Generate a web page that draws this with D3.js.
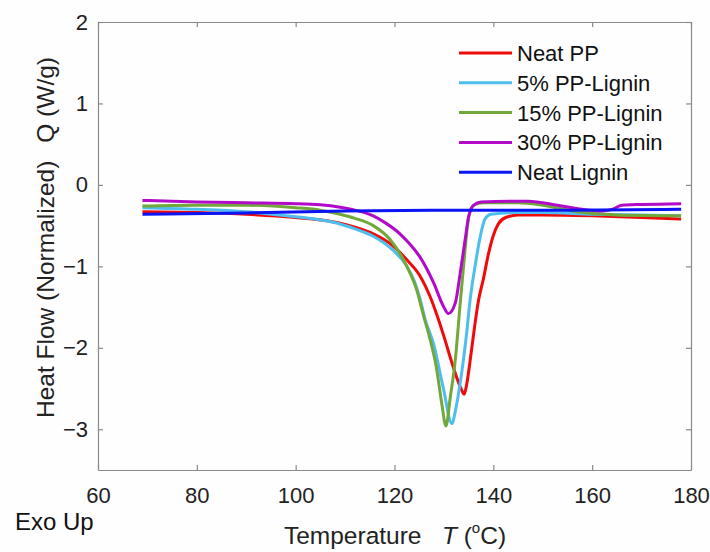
<!DOCTYPE html>
<html>
<head>
    <meta charset="utf-8">
    <script src="https://d3js.org/d3.v7.min.js"></script>
    <style>
        body { margin: 0; background: #fefefe; }
        svg { display: block; font-family: Arial, "Liberation Sans", sans-serif; }
        .axis path, .axis line { stroke: #8a8a8a; stroke-width: 1.2; }
        .axis text { fill: #222; font-size: 22px; font-family: Arial, "Liberation Sans", sans-serif; }
    </style>
</head>
<body>
<div id="chart"></div>
<script>
// DSC curves, [temperature °C, heat flow W/g]
const neatPP = [[69,-0.33],[80,-0.34],[90,-0.36],[100,-0.40],[105,-0.43],[109,-0.47],[112,-0.52],[115.7,-0.60],
    [119.1,-0.72],[122.5,-0.92],[125.2,-1.12],[127.2,-1.37],[128.6,-1.60],[130,-1.86],[131.6,-2.18],[132.8,-2.40],
    [133.6,-2.52],[134.1,-2.57],[134.6,-2.45],[135.6,-2.02],[136.3,-1.70],[137,-1.42],[138,-1.15],[139,-0.85],
    [140,-0.62],[141,-0.48],[142.5,-0.40],[145,-0.37],[150,-0.37],[160,-0.38],[170,-0.40],[178,-0.42]];
const pp5 = [[69,-0.28],[80,-0.30],[90,-0.33],[100,-0.39],[105,-0.43],[109,-0.48],[112,-0.54],[115.7,-0.63],
    [119.1,-0.77],[122.5,-1.00],[124,-1.18],[125.2,-1.41],[126.2,-1.65],[127.9,-1.95],[129.9,-2.50],[131.6,-2.93],
    [132.4,-2.75],[133.3,-2.43],[134.6,-1.82],[135.3,-1.41],[136.3,-1.00],[137.3,-0.65],[138.3,-0.42],
    [139.5,-0.36],[145,-0.34],[150,-0.34],[160,-0.36],[170,-0.37],[178,-0.38]];
const pp15 = [[69,-0.26],[80,-0.25],[90,-0.25],[100,-0.28],[105,-0.31],[109,-0.36],[112,-0.41],[115.7,-0.50],
    [119.1,-0.67],[122.5,-1.00],[124.5,-1.29],[125.9,-1.61],[127,-1.85],[128.5,-2.25],[129.6,-2.70],[130.4,-2.96],
    [131.3,-2.60],[132.3,-2.15],[133.3,-1.45],[134.2,-0.85],[135,-0.40],[136,-0.25],[138,-0.22],[145,-0.22],
    [150,-0.25],[157,-0.33],[165,-0.37],[178,-0.38]];
const pp30 = [[69,-0.19],[80,-0.21],[90,-0.22],[100,-0.23],[105,-0.245],[109,-0.275],[112,-0.31],[115.7,-0.38],
    [118,-0.46],[121.1,-0.60],[123,-0.72],[125.2,-0.89],[127.9,-1.20],[129.9,-1.49],[130.9,-1.58],[132.3,-1.45],
    [133.3,-1.08],[134.3,-0.67],[135,-0.39],[136,-0.25],[137.5,-0.21],[147,-0.20],[153,-0.25],
    [158,-0.30],[162,-0.32],[164,-0.30],[166,-0.25],[170,-0.24],[178,-0.23]];
const neatLignin = [[69,-0.36],[90,-0.345],[110,-0.32],[130,-0.31],[155,-0.31],[178,-0.30]];

const seriesNames = ["Neat PP", "5% PP-Lignin", "15% PP-Lignin", "30% PP-Lignin", "Neat Lignin"];
const seriesData = [neatPP, pp5, pp15, pp30, neatLignin];
const seriesColors = ["#f00a0a", "#4dbeee", "#72a83a", "#b20ac8", "#0a14f5"];

const xTicks = [60, 80, 100, 120, 140, 160, 180];
const yTicks = [2, 1, 0, -1, -2, -3];

const width = 710, height = 552;
const mLeft = 98, mRight = 691, mTop = 22, mBottom = 470;

const svg = d3.select("#chart").append("svg")
    .attr("width", width)
    .attr("height", height);

const x = d3.scaleLinear().domain([60, 180]).range([mLeft, mRight]);
const y = d3.scaleLinear().domain([-3.5, 2]).range([mBottom, mTop]);

// axes, ticks point inward on all four sides
svg.append("g").attr("class", "axis")
    .attr("transform", `translate(0,${mBottom})`)
    .call(d3.axisBottom(x).tickValues(xTicks).tickSizeInner(-5).tickSizeOuter(0).tickPadding(17));
svg.append("g").attr("class", "axis")
    .attr("transform", `translate(0,${mTop})`)
    .call(d3.axisTop(x).tickValues(xTicks).tickSizeInner(-5).tickSizeOuter(0).tickFormat(""));
svg.append("g").attr("class", "axis")
    .attr("transform", `translate(${mLeft},0)`)
    .call(d3.axisLeft(y).tickValues(yTicks).tickSizeInner(-5).tickSizeOuter(0).tickPadding(10)
        .tickFormat(d => d < 0 ? "\u2212" + Math.abs(d) : d));
svg.append("g").attr("class", "axis")
    .attr("transform", `translate(${mRight},0)`)
    .call(d3.axisRight(y).tickValues(yTicks).tickSizeInner(-5).tickSizeOuter(0).tickFormat(""));

// curves
const line = d3.line()
    .x(d => x(d[0]))
    .y(d => y(d[1]))
    .curve(d3.curveMonotoneX);

seriesData.forEach((data, i) => {
    svg.append("path")
        .datum(data)
        .attr("d", line)
        .attr("fill", "none")
        .attr("stroke", seriesColors[i])
        .attr("stroke-width", 3)
        .attr("stroke-linejoin", "round");
});

// legend
const legend = svg.append("g").attr("transform", "translate(459,53)");
seriesNames.forEach((name, i) => {
    const row = legend.append("g").attr("transform", `translate(0,${i * 29.8})`);
    row.append("line")
        .attr("x1", 0).attr("x2", 53)
        .attr("stroke", seriesColors[i])
        .attr("stroke-width", 3);
    row.append("text")
        .attr("x", 58).attr("y", 8)
        .attr("font-size", 22)
        .attr("fill", "#111")
        .text(name);
});

// axis labels
const xl = svg.append("text")
    .attr("x", 395)
    .attr("y", 544)
    .attr("text-anchor", "middle")
    .attr("font-size", 24.5)
    .attr("fill", "#222")
    .attr("xml:space", "preserve");
xl.append("tspan").text("Temperature   ");
xl.append("tspan").attr("font-style", "italic").text("T");
xl.append("tspan").text(" (");
xl.append("tspan").attr("font-size", 15).attr("dy", -11).text("o");
xl.append("tspan").attr("dy", 11).text("C)");

svg.append("text")
    .attr("transform", "translate(54,418) rotate(-90)")
    .attr("font-size", 24.5)
    .attr("fill", "#222")
    .text("Heat Flow (Normalized)");

svg.append("text")
    .attr("transform", "translate(54,57) rotate(-90)")
    .attr("text-anchor", "end")
    .attr("font-size", 24.5)
    .attr("fill", "#222")
    .text("Q (W/g)");

svg.append("text")
    .attr("x", 15).attr("y", 530)
    .attr("font-size", 24)
    .attr("fill", "#111")
    .text("Exo Up");
</script>
</body>
</html>
